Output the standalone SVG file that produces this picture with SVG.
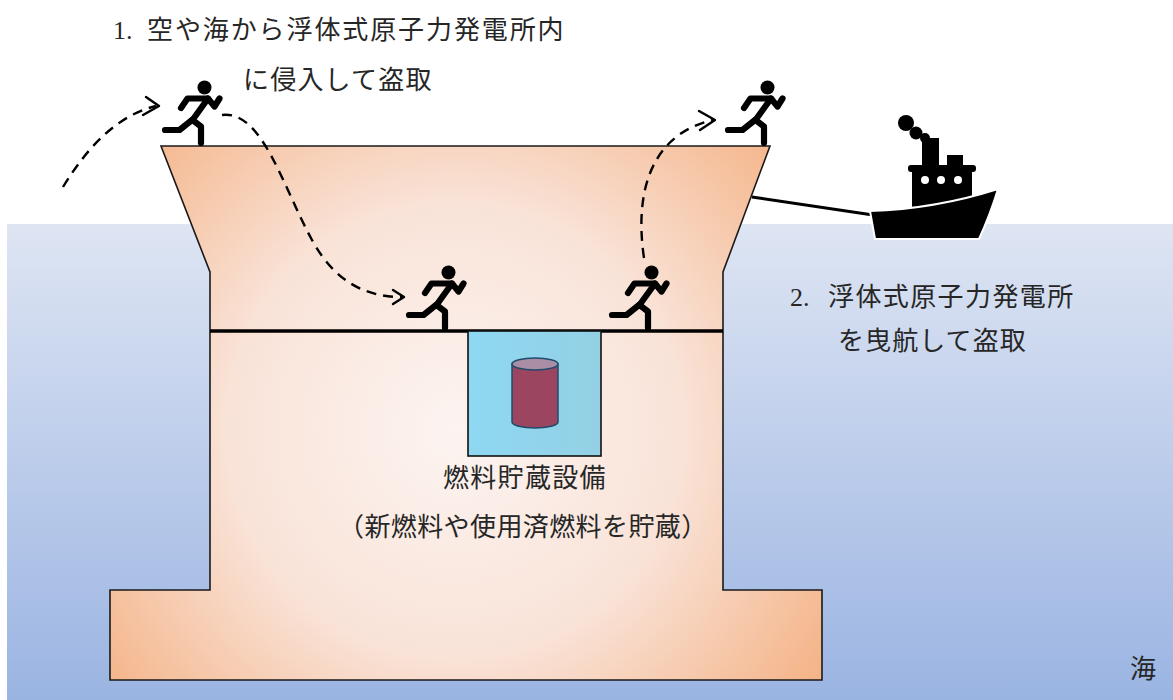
<svg xmlns="http://www.w3.org/2000/svg" xmlns:xlink="http://www.w3.org/1999/xlink" width="1173" height="700" viewBox="0 0 1173 700">
  <style>
    .jp { font-family: "Liberation Serif", "Noto Sans CJK JP", serif; font-size: 26px; fill: #262626; }
    .dash { fill: none; stroke: #000; stroke-width: 2.4; stroke-dasharray: 10 7; }
    .head { fill: none; stroke: #000; stroke-width: 2.4; stroke-linecap: round; stroke-linejoin: round; }
    .limb { fill: none; stroke: #000; stroke-width: 6.2; stroke-linecap: round; stroke-linejoin: round; }
  </style>
  <defs>
    <linearGradient id="sea" x1="0" y1="224" x2="0" y2="700" gradientUnits="userSpaceOnUse">
      <stop offset="0" stop-color="#dee5f3"/>
      <stop offset="1" stop-color="#9ab4e2"/>
    </linearGradient>
    <radialGradient id="hull" cx="455" cy="430" r="450" gradientUnits="userSpaceOnUse">
      <stop offset="0" stop-color="#fcf4f1"/>
      <stop offset="0.5" stop-color="#f9e3d8"/>
      <stop offset="1" stop-color="#f4b183"/>
    </radialGradient>
    <linearGradient id="pool" x1="0" y1="0" x2="1" y2="0">
      <stop offset="0" stop-color="#8ed8f2"/>
      <stop offset="1" stop-color="#94d0e4"/>
    </linearGradient>
    <!-- running figure, origin at the front foot -->
    <g id="runner">
      <circle cx="3.5" cy="-58.5" r="7" fill="#000"/>
      <path class="limb" d="M-20,-38 L-13.5,-47.5 L7,-47.5 L13.5,-39.5 L18.5,-47.5"/>
      <path class="limb" d="M7,-47.5 L-8.5,-26" stroke-width="9"/>
      <path class="limb" d="M-9,-26 L-21.5,-16 L-36,-16"/>
      <path class="limb" d="M-8.5,-26 L0,-19.5 L0,-3"/>
    </g>
  </defs>

  <!-- sea -->
  <rect id="sea-area" x="7" y="224" width="1166" height="476" fill="url(#sea)"/>

  <!-- floating plant body -->
  <g id="plant">
    <path d="M161,146 L770,146 L723,272 L723,590 L822,590 L822,680 L110,680 L110,590 L210,590 L210,272 Z" fill="url(#hull)" stroke="#1a1a1a" stroke-width="1.6" stroke-linejoin="miter"/>
    <line x1="210" y1="331" x2="723" y2="331" stroke="#000" stroke-width="3.5"/>
  </g>

  <!-- fuel storage pool with cask -->
  <g id="fuel-storage">
    <rect x="468" y="331" width="133" height="125" fill="url(#pool)" stroke="#111" stroke-width="1.6"/>
    <path d="M512,364 L512,422 A23,6 0 0 0 558,422 L558,364 Z" fill="#9b4560" stroke="#1e4d6b" stroke-width="1.5"/>
    <ellipse cx="535" cy="364" rx="23" ry="6" fill="#a98ea6" stroke="#1e4d6b" stroke-width="1.5"/>
  </g>

  <!-- tow line -->
  <g id="tow-line">
    <line x1="752" y1="197" x2="873" y2="215" stroke="#000" stroke-width="3"/>
  </g>

  <!-- tug boat -->
  <g id="ship" fill="#000">
    <circle cx="906" cy="123" r="8"/>
    <circle cx="916" cy="133" r="6.5"/>
    <circle cx="925" cy="138" r="5"/>
    <rect x="922" y="138" width="17" height="30"/>
    <rect x="947" y="155" width="16" height="13"/>
    <rect x="908" y="165" width="68" height="7" rx="3"/>
    <rect x="912" y="170" width="60" height="40"/>
    <circle cx="925" cy="180" r="4" fill="#fff"/>
    <circle cx="941" cy="180" r="4" fill="#fff"/>
    <circle cx="958" cy="180" r="4" fill="#fff"/>
    <path d="M870,211 Q935,209 998,189 Q990,215 979,239 L875,239 Z" stroke="#fff" stroke-width="2" stroke-linejoin="round"/>
  </g>

  <!-- intruders -->
  <g id="runner-1"><use xlink:href="#runner" x="201" y="146"/></g>
  <g id="runner-2"><use xlink:href="#runner" x="445" y="331"/></g>
  <g id="runner-3"><use xlink:href="#runner" x="648" y="331"/></g>
  <g id="runner-4"><use xlink:href="#runner" x="764" y="146"/></g>

  <!-- intrusion paths -->
  <g id="connectors">
    <path class="dash" d="M63,187 Q105,118 156,106"/>
    <path class="head" d="M146,97 L159,106 L143,115"/>
    <path class="dash" d="M222,115 C262,110 282,185 312,240 C336,284 368,297 402,297"/>
    <path class="head" d="M393,290 L404,297 L393,304"/>
    <path class="dash" d="M644,258 C634,190 652,134 713,120"/>
    <path class="head" d="M699,111 L715,120 L700,130"/>
  </g>

  <!-- labels -->
  <g id="label-1">
    <text class="jp" x="113" y="39">1.</text>
    <text class="jp" x="147" y="39" letter-spacing="1.9">空や海から浮体式原子力発電所内</text>
    <text class="jp" x="243" y="89" letter-spacing="1.2">に侵入して盗取</text>
  </g>
  <g id="label-2">
    <text class="jp" x="790" y="306">2.</text>
    <text class="jp" x="828" y="306" letter-spacing="1.4">浮体式原子力発電所</text>
    <text class="jp" x="838" y="350" letter-spacing="1.1">を曳航して盗取</text>
  </g>
  <g id="label-3">
    <text class="jp" x="443" y="487" letter-spacing="1.3">燃料貯蔵設備</text>
    <text class="jp" x="338" y="536" letter-spacing="0.4">（新燃料や使用済燃料を貯蔵）</text>
  </g>
  <g id="label-sea">
    <text class="jp" x="1130" y="678">海</text>
  </g>
</svg>
